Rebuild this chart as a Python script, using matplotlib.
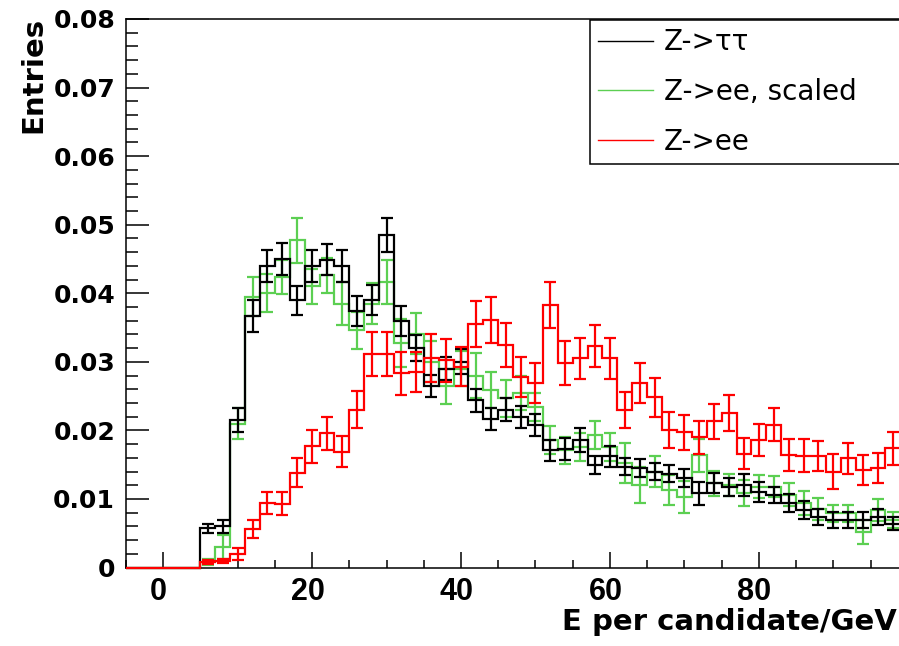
import numpy as np
import matplotlib
matplotlib.use("Agg")
import matplotlib.pyplot as plt
from matplotlib.lines import Line2D
from matplotlib.ticker import MultipleLocator
import matplotlib.transforms as mtransforms

# ---------------- data ----------------
bin_edges = np.arange(-5, 100, 2)          # 2 GeV bins from -5 to 99
bin_centers = bin_edges[:-1] + 1

ztt = [0, 0, 0, 0, 0,
       0.0057, 0.0060, 0.0215, 0.0367, 0.0440, 0.0450, 0.0390, 0.0440, 0.0449, 0.0440,
       0.0374, 0.0390, 0.0485, 0.0360, 0.0320, 0.0265, 0.0290, 0.0300, 0.0244, 0.0216,
       0.0230, 0.0220, 0.0208, 0.0171, 0.0173, 0.0186, 0.0149, 0.0162, 0.0147, 0.0145,
       0.0140, 0.0137, 0.0130, 0.0108, 0.0123, 0.0118, 0.0121, 0.0110, 0.0106, 0.0094,
       0.0084, 0.0074, 0.0069, 0.0069, 0.0069, 0.0074, 0.0064]
ztt_err = [0, 0, 0, 0, 0,
           0.0007, 0.0009, 0.0017, 0.0023, 0.0023, 0.0024, 0.0021, 0.0023, 0.0023, 0.0023,
           0.0022, 0.0022, 0.0025, 0.0022, 0.0019, 0.0016, 0.0017, 0.0018, 0.0017, 0.0016,
           0.0017, 0.0016, 0.0016, 0.0015, 0.0016, 0.0017, 0.0013, 0.0015, 0.0012, 0.0013,
           0.0013, 0.0013, 0.0013, 0.0017, 0.0015, 0.0013, 0.0016, 0.0015, 0.0012, 0.0013,
           0.0013, 0.0012, 0.0012, 0.0012, 0.0012, 0.0012, 0.0009]

zee_scaled = [0, 0, 0, 0, 0,
              0.0008, 0.0030, 0.0210, 0.0395, 0.0400, 0.0424, 0.0477, 0.0410, 0.0426, 0.0385,
              0.0346, 0.0385, 0.0417, 0.0327, 0.0341, 0.0300, 0.0264, 0.0290, 0.0280, 0.0259,
              0.0247, 0.0254, 0.0234, 0.0186, 0.0171, 0.0176, 0.0193, 0.0176, 0.0152, 0.0120,
              0.0140, 0.0113, 0.0103, 0.0164, 0.0123, 0.0120, 0.0108, 0.0118, 0.0118, 0.0106,
              0.0094, 0.0086, 0.0079, 0.0079, 0.0052, 0.0084, 0.0069]
zee_scaled_err = [0, 0, 0, 0, 0,
                  0.0005, 0.0018, 0.0023, 0.0028, 0.0028, 0.0025, 0.0033, 0.0025, 0.0025, 0.0032,
                  0.0027, 0.0030, 0.0032, 0.0035, 0.0030, 0.0030, 0.0026, 0.0026, 0.0033, 0.0026,
                  0.0027, 0.0025, 0.0020, 0.0020, 0.0020, 0.0020, 0.0020, 0.0020, 0.0029, 0.0026,
                  0.0023, 0.0022, 0.0023, 0.0024, 0.0018, 0.0016, 0.0019, 0.0017, 0.0015, 0.0017,
                  0.0017, 0.0016, 0.0012, 0.0012, 0.0017, 0.0016, 0.0012]

zee = [0, 0, 0, 0, 0,
       0.0008, 0.0009, 0.0020, 0.0056, 0.0094, 0.0093, 0.0138, 0.0177, 0.0196, 0.0169,
       0.0230, 0.0311, 0.0311, 0.0283, 0.0285, 0.0306, 0.0302, 0.0293, 0.0355, 0.0361,
       0.0324, 0.0278, 0.0269, 0.0383, 0.0298, 0.0305, 0.0323, 0.0305, 0.0230, 0.0269,
       0.0248, 0.0201, 0.0197, 0.0190, 0.0213, 0.0225, 0.0166, 0.0186, 0.0208, 0.0164,
       0.0163, 0.0163, 0.0140, 0.0159, 0.0142, 0.0145, 0.0174]
zee_err = [0, 0, 0, 0, 0,
           0.0003, 0.0003, 0.0009, 0.0013, 0.0016, 0.0017, 0.0021, 0.0024, 0.0024, 0.0023,
           0.0027, 0.0032, 0.0032, 0.0032, 0.0029, 0.0035, 0.0032, 0.0029, 0.0034, 0.0034,
           0.0032, 0.0029, 0.0029, 0.0034, 0.0032, 0.0030, 0.0030, 0.0030, 0.0026, 0.0029,
           0.0028, 0.0026, 0.0026, 0.0024, 0.0026, 0.0026, 0.0023, 0.0024, 0.0024, 0.0023,
           0.0024, 0.0022, 0.0025, 0.0023, 0.0022, 0.0022, 0.0024]

series_labels = ["Z->\u03c4\u03c4", "Z->ee, scaled", "Z->ee"]
x_ticks = [0, 20, 40, 60, 80]
x_tick_labels = ["0", "20", "40", "60", "80"]
y_ticks = [0, 0.01, 0.02, 0.03, 0.04, 0.05, 0.06, 0.07, 0.08]
y_tick_labels = ["0", "0.01", "0.02", "0.03", "0.04", "0.05", "0.06", "0.07", "0.08"]
x_title = "E per candidate/GeV"
y_title = "Entries"

# ---------------- figure ----------------
W, H = 899, 646
fig = plt.figure(figsize=(W / 100, H / 100), dpi=100)
ax_left, ax_right, ax_top, ax_bottom = 126, 900.3, 19, 567.5
ax = fig.add_axes([ax_left / W, 1 - ax_bottom / H,
                   (ax_right - ax_left) / W, (ax_bottom - ax_top) / H])

col_black = "#000000"
col_green = "#5ccf52"
col_red = "#ff0000"

series = [
    (zee_scaled, zee_scaled_err, col_green, 2),
    (ztt, ztt_err, col_black, 3),
    (zee, zee_err, col_red, 4),
]
for vals, errs, col, z in series:
    v = np.asarray(vals)
    e = np.asarray(errs)
    ax.stairs(v, bin_edges, color=col, linewidth=1.6, zorder=z, baseline=None,
              clip_on=False)
    m = v > 0
    ax.errorbar(bin_centers[m], v[m], yerr=e[m], fmt="none", ecolor=col,
                elinewidth=1.6, capsize=4.6, capthick=1.6, zorder=z)

ax.set_xlim(bin_edges[0], bin_edges[-1])
ax.set_ylim(0, 0.08)

ax.set_xticks(x_ticks)
ax.set_xticklabels(x_tick_labels, fontfamily="Liberation Sans", fontweight="bold", fontsize=22)
ax.set_yticks(y_ticks)
ax.set_yticklabels(y_tick_labels, fontfamily="DejaVu Sans", fontweight="bold", fontsize=18)
ax.xaxis.set_minor_locator(MultipleLocator(5))
ax.yaxis.set_minor_locator(MultipleLocator(0.002))

ax.tick_params(axis="both", which="both", direction="in", width=1.1, colors="black")
ax.tick_params(axis="x", which="major", length=11.8, pad=6.8)
ax.tick_params(axis="x", which="minor", length=5.9)
ax.tick_params(axis="y", which="major", length=16.6, pad=7.9)
ax.tick_params(axis="y", which="minor", length=8.3)
ax.tick_params(top=False, right=False, which="both")

for s in ["left", "bottom", "top"]:
    ax.spines[s].set_linewidth(1.1)
ax.spines["right"].set_visible(False)

# shift x tick labels slightly left as in the reference
offset = mtransforms.ScaledTranslation(-4.5 / 100, 0, fig.dpi_scale_trans)
for lbl in ax.get_xticklabels():
    lbl.set_transform(lbl.get_transform() + offset)

ax.set_xlabel(x_title, fontsize=21, fontweight="bold", fontfamily="DejaVu Sans",
              ha="right", va="baseline")
ax.xaxis.set_label_coords((897 - ax_left) / (ax_right - ax_left),
                          -(630 - ax_bottom) / (ax_bottom - ax_top))
ax.set_ylabel(y_title, fontsize=21, fontweight="bold", fontfamily="DejaVu Sans",
              ha="right", va="center")
ax.yaxis.set_label_coords((33 - ax_left) / (ax_right - ax_left),
                          (ax_bottom - 17) / (ax_bottom - ax_top))

handles = [Line2D([], [], color=col_black, lw=1.0),
           Line2D([], [], color=col_green, lw=1.0),
           Line2D([], [], color=col_red, lw=1.0)]
leg = ax.legend(handles, series_labels, loc="upper left",
                bbox_to_anchor=(590 / W, 1 - 164 / H, 330 / W, 144 / H),
                bbox_transform=fig.transFigure, mode="expand", borderaxespad=0,
                prop={"family": "DejaVu Sans", "size": 20},
                handlelength=1.95, handletextpad=0.4, borderpad=0.3,
                labelspacing=0.78, fancybox=False, framealpha=1, edgecolor="black")
leg.get_frame().set_linewidth(1.1)
leg.set_zorder(10)

fig.savefig("out.png", dpi=100)
